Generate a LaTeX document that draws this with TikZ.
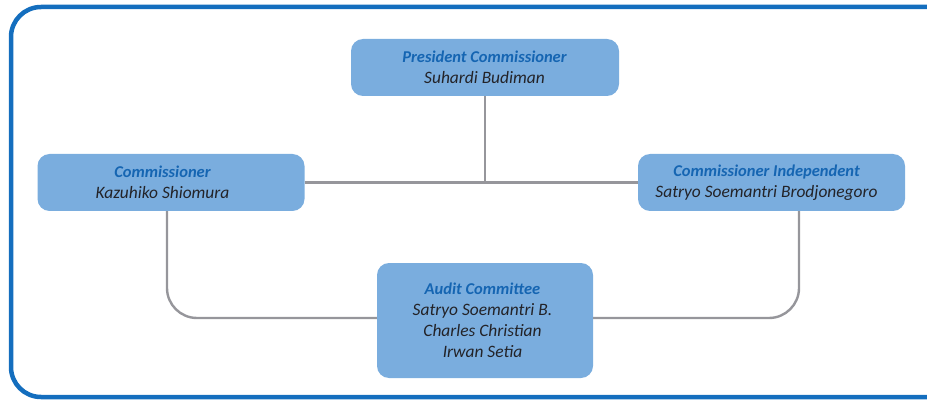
\documentclass[tikz,border=0pt]{standalone}
\usepackage{fontspec}
\setmainfont{Carlito}
\definecolor{boxfill}{RGB}{122,173,222}
\definecolor{titleblue}{RGB}{21,101,178}
\definecolor{frameblue}{RGB}{20,110,190}
\definecolor{linegray}{RGB}{150,150,155}
\definecolor{nametext}{RGB}{35,35,40}
\newcommand{\boxtitle}[1]{{\fontsize{16.5}{21}\selectfont\bfseries\color{titleblue}#1}}
\begin{document}
\begin{tikzpicture}[x=1pt,y=-1pt,
  orgbox/.style={fill=boxfill,draw=none,rounded corners=12pt,inner sep=0pt},
  boxtext/.style={inner sep=0pt,align=center,
     font=\fontsize{17.4}{21}\selectfont\itshape,text=nametext},
  conn/.style={draw=linegray,line width=2.4pt},
]
\useasboundingbox (0,0) rectangle (927,401);
\draw[frameblue,line width=4.5pt,rounded corners=30pt] (11,7) rectangle (960,397);

\node[orgbox,minimum width=268pt,minimum height=57pt] (pres) at (485,67.5) {};
\node[boxtext] (prest) at ([xshift=-0.5pt]pres.center)
  {\boxtitle{President Commissioner}\\Suhardi Budiman};
\node[orgbox,minimum width=267pt,minimum height=57pt] (comm) at (171,182.5) {};
\node[boxtext] (commt) at ([xshift=-8.5pt]comm.center)
  {\boxtitle{Commissioner}\\Kazuhiko Shiomura};
\node[orgbox,minimum width=267pt,minimum height=57pt] (ind) at (771.5,182.5) {};
\node[boxtext] (indt) at ([xshift=-5pt]ind.center)
  {\boxtitle{Commissioner Independent}\\Satryo Soemantri Brodjonegoro};
\node[orgbox,minimum width=216pt,minimum height=115pt] (audit) at (485,320.5) {};
\node[boxtext] (auditt) at ([xshift=-2.5pt]audit.center)
  {\boxtitle{Audit Committee}\\Satryo Soemantri B.\\Charles Christian\\Irwan Setia};

\coordinate (j) at (pres.south |- comm.east);
\draw[conn] (comm.east) -- (ind.west);
\draw[conn] (pres.south) -- (j);
\draw[conn,rounded corners=30pt] (comm.south -| 167,0) |- (audit.west |- 0,318);
\draw[conn,rounded corners=30pt] (ind.south -| 799,0) |- (audit.east |- 0,318);
\end{tikzpicture}
\end{document}
